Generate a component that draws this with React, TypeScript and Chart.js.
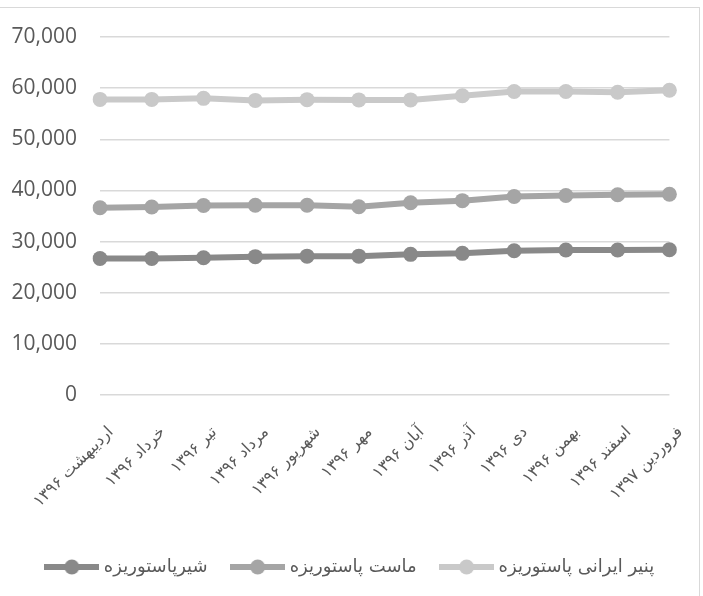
import { useEffect, useRef } from 'react'
import Chart from 'chart.js/auto'

const months = ['اردیبهشت', 'خرداد', 'تیر', 'مرداد', 'شهریور', 'مهر', 'آبان', 'آذر', 'دی', 'بهمن', 'اسفند', 'فروردین']
const years = ['۱۳۹۶', '۱۳۹۶', '۱۳۹۶', '۱۳۹۶', '۱۳۹۶', '۱۳۹۶', '۱۳۹۶', '۱۳۹۶', '۱۳۹۶', '۱۳۹۶', '۱۳۹۶', '۱۳۹۷']

const seriesNames = ['شیرپاستوریزه', 'ماست پاستوریزه', 'پنیر ایرانی پاستوریزه']
const milk = [26700, 26700, 26850, 27050, 27150, 27150, 27500, 27700, 28200, 28350, 28350, 28400]
const yogurt = [36600, 36750, 37050, 37100, 37100, 36800, 37600, 38000, 38800, 39000, 39150, 39250]
const cheese = [57800, 57800, 58000, 57600, 57750, 57700, 57700, 58500, 59350, 59350, 59200, 59600]
const seriesColors = ['#898989', '#a5a5a5', '#c9c9c9']

const yMax = 70000
const yStep = 10000

const textColor = '#595959'
const gridColor = '#d9d9d9'
const persianFont = '"DejaVu Sans", sans-serif'

// line-with-dot legend marker, like the office chart
function legendMarker(color: string) {
  const c = document.createElement('canvas')
  c.width = 55
  c.height = 16
  const g = c.getContext('2d')!
  g.strokeStyle = color
  g.lineWidth = 6
  g.beginPath()
  g.moveTo(0, 8)
  g.lineTo(55, 8)
  g.stroke()
  g.fillStyle = color
  g.beginPath()
  g.arc(27.5, 8, 7.5, 0, Math.PI * 2)
  g.fill()
  return c
}

export default function App() {
  const canvasRef = useRef<HTMLCanvasElement>(null)
  const chartRef = useRef<Chart | null>(null)

  useEffect(() => {
    if (!canvasRef.current) return
    const ctx = canvasRef.current.getContext('2d')
    if (!ctx) return

    if (chartRef.current) {
      chartRef.current.destroy()
    }

    // "month year" on one line; bidi puts the year on the left
    const labels = months.map((m, i) => `${m} ${years[i]}`)
    const values = [milk, yogurt, cheese]

    chartRef.current = new Chart(ctx, {
      type: 'line',
      data: {
        labels,
        datasets: values.map((data, i) => ({
          label: seriesNames[i],
          data,
          borderColor: seriesColors[i],
          backgroundColor: seriesColors[i],
          pointBackgroundColor: seriesColors[i],
          borderWidth: 6,
          pointRadius: 7.5,
          pointBorderWidth: 0,
          tension: 0,
          fill: false,
        })),
      },
      options: {
        animation: false,
        responsive: true,
        maintainAspectRatio: false,
        layout: { padding: { top: 37, right: 0, bottom: 10, left: 0 } },
        plugins: {
          tooltip: { enabled: false },
          legend: {
            position: 'bottom',
            labels: {
              usePointStyle: true,
              pointStyleWidth: 46,
              padding: 27,
              color: textColor,
              font: { family: persianFont, size: 18 },
              generateLabels: (chart) =>
                Chart.defaults.plugins.legend.labels.generateLabels(chart).map((item, i) => ({
                  ...item,
                  pointStyle: legendMarker(seriesColors[i]),
                })),
            },
          },
        },
        scales: {
          x: {
            grid: { display: false },
            border: { display: false },
            afterFit: (s) => {
              s.height = 136
            },
            ticks: {
              color: textColor,
              minRotation: 45,
              maxRotation: 45,
              autoSkip: false,
              padding: 20,
              labelOffset: 11,
              font: { family: persianFont, size: 16 },
            },
          },
          y: {
            min: 0,
            max: yMax,
            afterFit: (s) => {
              s.width = 100
            },
            grid: { color: gridColor, lineWidth: 1.5, drawTicks: false },
            border: { display: false },
            ticks: {
              stepSize: yStep,
              padding: 23,
              color: textColor,
              font: { family: '"Open Sans", sans-serif', size: 21 },
              callback: (v) => Number(v).toLocaleString('en-US'),
            },
          },
          // empty spacer on the right so the legend stays centred on the full width
          spacer: {
            type: 'linear',
            position: 'right',
            grid: { display: false },
            border: { display: false },
            ticks: { display: false },
            afterFit: (s) => {
              s.width = 31
            },
          },
        },
      },
    })

    return () => {
      if (chartRef.current) {
        chartRef.current.destroy()
        chartRef.current = null
      }
    }
  }, [])

  return (
    <div style={{ position: 'fixed', left: 0, top: 0, width: 703, height: 596, background: '#fff' }}>
      <div
        style={{
          position: 'absolute',
          left: -2,
          top: 7,
          width: 701,
          height: 600,
          borderTop: `1.5px solid ${gridColor}`,
          borderRight: `1.5px solid ${gridColor}`,
        }}
      />
      <canvas ref={canvasRef} style={{ position: 'absolute', left: 0, top: 0 }} />
    </div>
  )
}
